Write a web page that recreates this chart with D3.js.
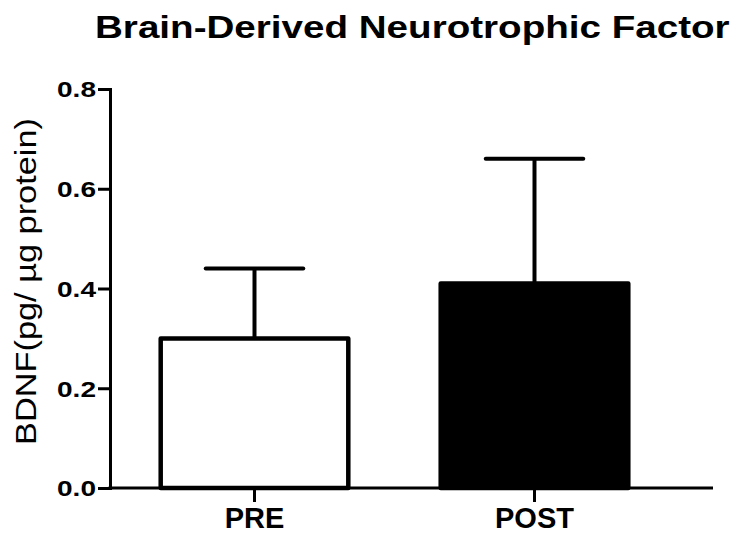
<!DOCTYPE html>
<html>
<head>
<meta charset="utf-8">
<script src="https://cdn.jsdelivr.net/npm/d3@7"></script>
<style>
  body { margin: 0; background: #fff; }
  svg { display: block; font-family: "Liberation Sans", Arial, sans-serif; }
</style>
</head>
<body>
<div id="chart-area"></div>
<script>
// data
var groups = ["PRE", "POST"];
var means = [0.30, 0.41];
var errors = [0.14, 0.25];
var barFills = ["#ffffff", "#000000"];
var yTicks = [0.0, 0.2, 0.4, 0.6, 0.8];

var width = 737, height = 535;
var plotLeft = 110, plotBottom = 488, plotTop = 89, axisEnd = 713;

var svg = d3.select("#chart-area")
  .append("svg")
  .attr("width", width)
  .attr("height", height);

// the original picture has its text stretched sideways, so stretch to a width
function stretch(node, target) {
  var w = node.getComputedTextLength();
  return target / w;
}

var y = d3.scaleLinear()
  .domain([0, 0.8])
  .range([plotBottom, plotTop]);

var x = d3.scaleBand()
  .domain(groups)
  .range([114.5, 674.5])
  .paddingInner(0.33)
  .paddingOuter(0.165);

var data = groups.map(function (g, i) {
  return {name: g, mean: means[i], err: errors[i], fill: barFills[i]};
});

// title
var title = svg.append("text")
  .attr("font-size", "32px")
  .attr("font-weight", "bold")
  .text("Brain-Derived Neurotrophic Factor");
title.attr("transform", "translate(95,38) scale(" + stretch(title.node(), 635) + ",1)");

// y label
var yLabel = svg.append("text")
  .attr("text-anchor", "middle")
  .attr("font-size", "29px")
  .text("BDNF(pg/ \u00b5g protein)");
yLabel.attr("transform", "translate(36,281.5) rotate(-90) scale(" + stretch(yLabel.node(), 327) + ",1)");

// error bars (drawn first so the bar covers the lower half)
var cap = x.bandwidth() * 0.52;
var eb = svg.append("g").attr("class", "errors");
eb.selectAll("line.stem")
  .data(data)
  .enter()
  .append("line")
  .attr("class", "stem")
  .attr("x1", function (d) { return x(d.name) + x.bandwidth() / 2; })
  .attr("x2", function (d) { return x(d.name) + x.bandwidth() / 2; })
  .attr("y1", function (d) { return y(d.mean); })
  .attr("y2", function (d) { return y(d.mean + d.err); })
  .attr("stroke", "#000")
  .attr("stroke-width", 4);

eb.selectAll("line.cap")
  .data(data)
  .enter()
  .append("line")
  .attr("class", "cap")
  .attr("x1", function (d) { return x(d.name) + x.bandwidth() / 2 - cap / 2; })
  .attr("x2", function (d) { return x(d.name) + x.bandwidth() / 2 + cap / 2; })
  .attr("y1", function (d) { return y(d.mean + d.err); })
  .attr("y2", function (d) { return y(d.mean + d.err); })
  .attr("stroke", "#000")
  .attr("stroke-width", 4)
  .attr("stroke-linecap", "round");

// bars
svg.selectAll("rect.bar")
  .data(data)
  .enter()
  .append("rect")
  .attr("class", "bar")
  .attr("x", function (d) { return x(d.name); })
  .attr("y", function (d) { return y(d.mean); })
  .attr("width", x.bandwidth())
  .attr("height", function (d) { return y(0) - y(d.mean); })
  .attr("fill", function (d) { return d.fill; })
  .attr("stroke", "#000")
  .attr("stroke-width", 4.5)
  .attr("stroke-linejoin", "round");

// y axis
var yAxis = svg.append("g")
  .attr("transform", "translate(" + plotLeft + ",0)")
  .call(d3.axisLeft(y)
    .tickValues(yTicks)
    .tickFormat(d3.format(".1f"))
    .tickSize(12)
    .tickPadding(2));
yAxis.select(".domain").attr("stroke-width", 3);
yAxis.selectAll(".tick line").attr("stroke-width", 3);
yAxis.selectAll(".tick text")
  .attr("font-size", "22px")
  .attr("font-weight", "bold")
  .attr("font-family", "'Liberation Sans', Arial, sans-serif")
  .attr("x", 0)
  .attr("dy", "0.36em")
  .attr("transform", function () {
    return "translate(-14,0) scale(" + stretch(this, 39) + ",1)";
  });

// x axis
var xAxis = svg.append("g")
  .attr("transform", "translate(0," + plotBottom + ")")
  .call(d3.axisBottom(x).tickSize(14).tickPadding(0));
xAxis.select(".domain").remove();
xAxis.selectAll(".tick line").attr("stroke-width", 3);
xAxis.selectAll(".tick text")
  .attr("y", 40)
  .attr("dy", null)
  .attr("font-size", "29px")
  .attr("font-weight", "bold")
  .attr("font-family", "'Liberation Sans', Arial, sans-serif");
xAxis.append("line")
  .attr("x1", plotLeft - 1.5)
  .attr("x2", axisEnd)
  .attr("stroke", "#000")
  .attr("stroke-width", 3);
</script>
</body>
</html>
